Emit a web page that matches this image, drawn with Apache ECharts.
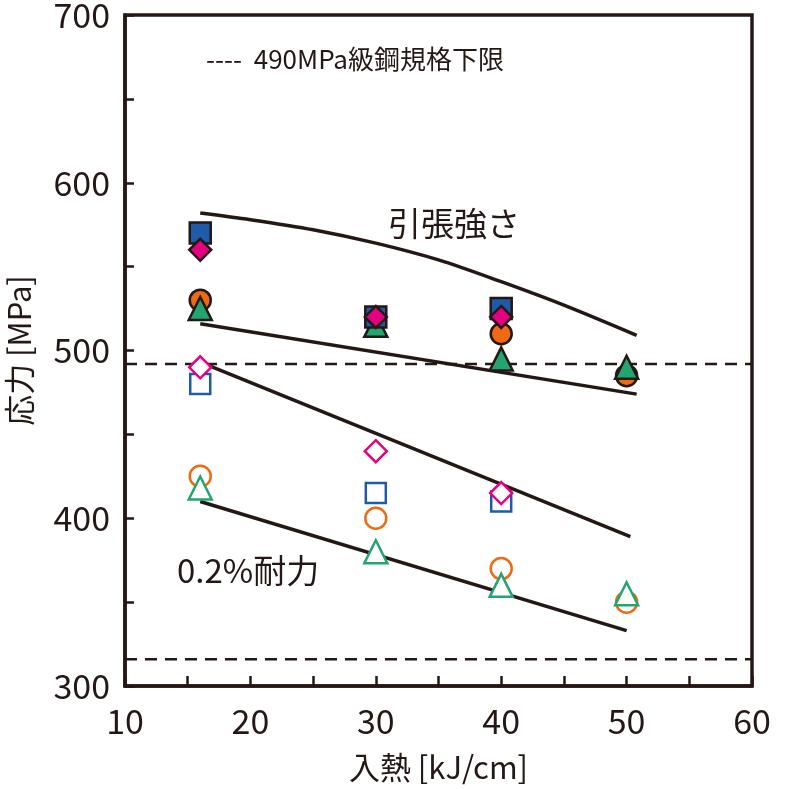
<!DOCTYPE html>
<html>
<head>
<meta charset="utf-8">
<script src="https://cdn.jsdelivr.net/npm/echarts@6/dist/echarts.min.js"></script>
<style>html,body{margin:0;padding:0;background:#fff;}#c{width:800px;height:789px;}</style>
</head>
<body>
<div id="c"></div>
<script>
// Heat input positions [kJ/cm]
const heatInput = [16, 30, 40, 50];
// Tensile strength (filled markers) [MPa]
const tsSquare   = [570, 520, 525, null];
const tsDiamond  = [560, 520, 520, null];
const tsCircle   = [530, null, 510, 485];
const tsTriangle = [525, 515, 495, 490];
// 0.2% proof stress (open markers) [MPa]
const psSquare   = [480, 415, 410, null];
const psDiamond  = [490, 440, 415, null];
const psCircle   = [425, 400, 370, 350];
const psTriangle = [418, 380, 360, 355];
// Trend curves [x, MPa]
const curveTS1 = [[16, 582], [20, 578], [25, 572], [30, 564], [35, 554], [40, 541], [45, 527], [50.8, 509]];
const curveTS2 = [[16, 516], [50.8, 474]];
const curvePS1 = [[16, 493], [50.3, 389]];
const curvePS2 = [[16, 410], [50.0, 333]];
// Spec lower limits [MPa]
const limitTS = 492;
const limitPS = 316;
const xRange = [10, 60];

const INK = '#231815';
const C_BLUE = '#1f5ba8', C_PINK = '#e4007f', C_ORANGE = '#ef6a12', C_GREEN = '#23a56f';
const FONT = '"Noto Sans CJK JP", "Noto Sans", sans-serif';

function pts(vals) { return heatInput.map((x, i) => vals[i] == null ? null : [x, vals[i]]).filter(p => p); }

function filled(name, vals, symbol, color, size, z) {
  return { name, type: 'scatter', data: pts(vals), symbol, symbolSize: size, z,
    itemStyle: { color, borderColor: INK, borderWidth: 2.5, opacity: 1 }, emphasis: { disabled: true } };
}
function open(name, vals, symbol, color, size, z) {
  return { name, type: 'scatter', data: pts(vals), symbol, symbolSize: size, z,
    itemStyle: { color: '#ffffff', borderColor: color, borderWidth: 2.5, opacity: 1 }, emphasis: { disabled: true } };
}
function curve(data, smooth) {
  return { type: 'line', data, smooth: smooth ? 0.3 : false, symbol: 'none', z: 3, color: INK,
    lineStyle: { color: INK, width: 3.5 }, silent: true };
}
function limit(name, y) {
  return { name, type: 'line', data: [[xRange[0], y], [xRange[1], y]], symbol: 'none', z: 2, color: INK,
    lineStyle: { color: INK, width: 2.5, type: [12, 8] }, silent: true };
}

const chart = echarts.init(document.getElementById('c'));
chart.setOption({
  animation: false,
  backgroundColor: '#fff',
  grid: { left: 125, right: 48, top: 15, bottom: 103, containLabel: false, outerBoundsMode: 'none',
    show: true, borderColor: INK, borderWidth: 3.5, backgroundColor: 'transparent' },
  legend: { show: false },
  xAxis: {
    type: 'value', min: xRange[0], max: xRange[1], interval: 10,
    name: '入熱 [kJ/cm]', nameLocation: 'middle', nameGap: 66,
    nameTextStyle: { fontFamily: FONT, fontSize: 31, color: INK },
    axisLine: { show: true, lineStyle: { color: INK, width: 3.5 } },
    axisTick: { show: true, inside: true, length: 10, lineStyle: { color: INK, width: 2.5 } },
    minorTick: { show: true, splitNumber: 2, length: 10, lineStyle: { color: INK, width: 2.5 } },
    axisLabel: { fontFamily: FONT, fontSize: 34, color: INK, margin: 18 },
    splitLine: { show: false }
  },
  yAxis: {
    type: 'value', min: 300, max: 700, interval: 100,
    name: '応力 [MPa]', nameLocation: 'middle', nameGap: 90, nameRotate: 90,
    nameTextStyle: { fontFamily: FONT, fontSize: 31, color: INK },
    axisLine: { show: true, lineStyle: { color: INK, width: 3.5 } },
    axisTick: { show: true, inside: true, length: 9, lineStyle: { color: INK, width: 2.5 } },
    minorTick: { show: true, splitNumber: 2, length: 9, lineStyle: { color: INK, width: 2.5 } },
    axisLabel: { fontFamily: FONT, fontSize: 34, color: INK, margin: 15 },
    splitLine: { show: false }
  },
  graphic: [
    { type: 'text', left: 206, top: 46, silent: true,
      style: { text: '----  490MPa級鋼規格下限', fontFamily: FONT, fontSize: 26, fill: INK } },
    { type: 'text', left: 388, top: 207, silent: true,
      style: { text: '引張強さ', fontFamily: FONT, fontSize: 33, fill: INK } },
    { type: 'text', left: 177, top: 554, silent: true,
      style: { text: '0.2%耐力', fontFamily: FONT, fontSize: 33, fill: INK } }
  ],
  series: [
    limit('490MPa級鋼規格下限', limitTS),
    limit('limitPS', limitPS),
    curve(curveTS1, true),
    curve(curveTS2, false),
    curve(curvePS1, false),
    curve(curvePS2, false),
    filled('tsCircle', tsCircle, 'circle', C_ORANGE, 21, 5),
    filled('tsTriangle', tsTriangle, 'triangle', C_GREEN, 23, 6),
    filled('tsSquare', tsSquare, 'rect', C_BLUE, 21, 7),
    filled('tsDiamond', tsDiamond, 'diamond', C_PINK, [22, 22], 8),
    open('psCircle', psCircle, 'circle', C_ORANGE, 21, 5),
    open('psTriangle', psTriangle, 'triangle', C_GREEN, 23, 6),
    open('psSquare', psSquare, 'rect', C_BLUE, 20, 7),
    open('psDiamond', psDiamond, 'diamond', C_PINK, [22, 22], 8)
  ]
});
</script>
</body>
</html>
